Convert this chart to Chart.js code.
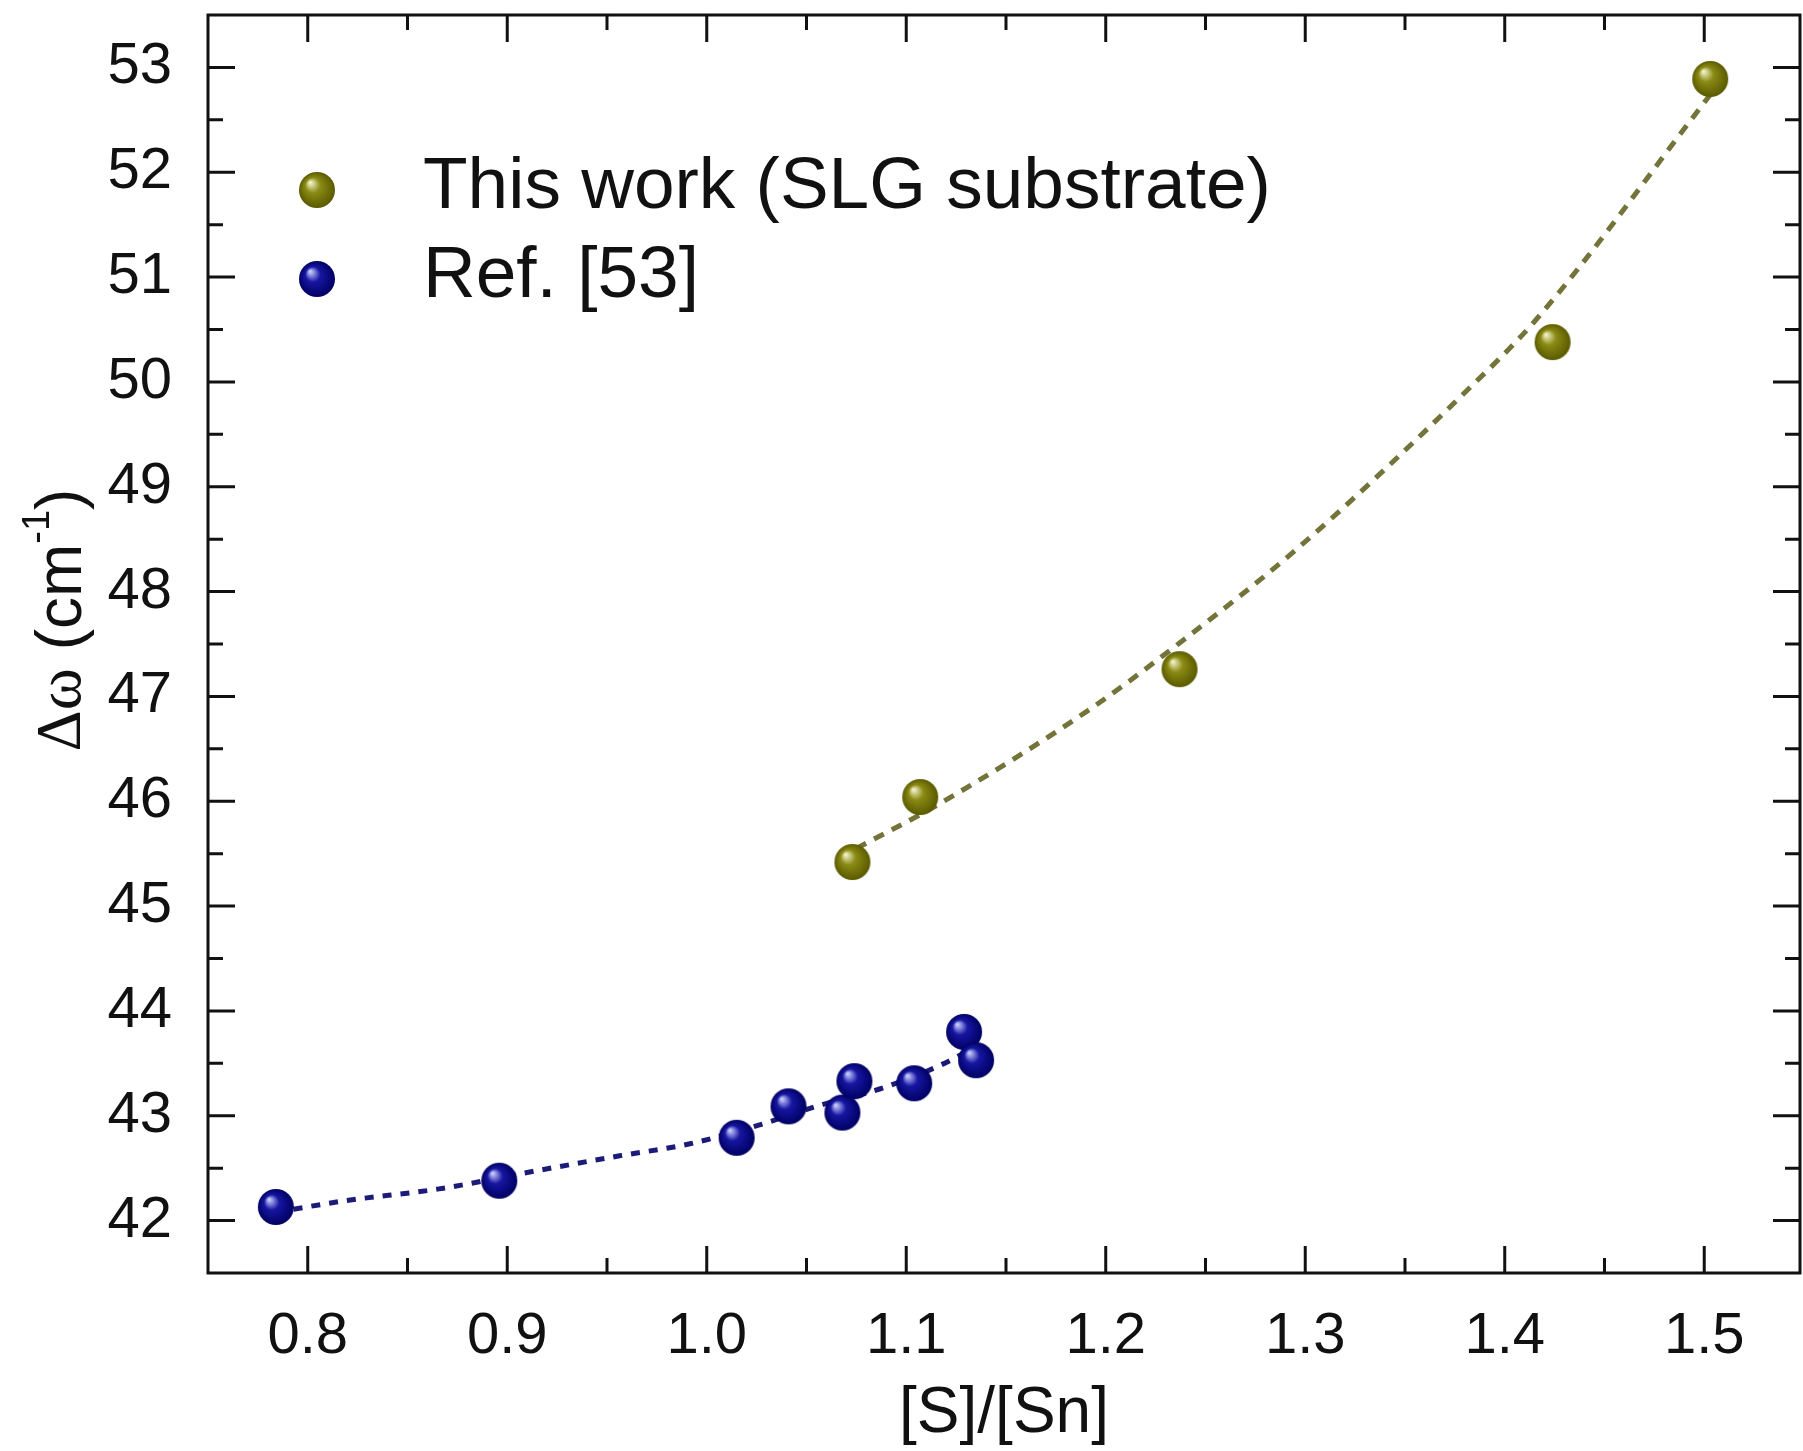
<!DOCTYPE html>
<html>
<head>
<meta charset="utf-8">
<title>Δω vs [S]/[Sn]</title>
<script src="https://cdn.jsdelivr.net/npm/chart.js@4.4.1/dist/chart.umd.min.js"></script>
<style>
  html, body { margin: 0; padding: 0; background: #fff; }
  #wrap { width: 1803px; height: 1451px; }
</style>
</head>
<body>
<div id="wrap"><canvas id="ramanChart" width="1803" height="1451"></canvas></div>
<script>
// This work (SLG substrate): [S]/[Sn] ratio and Raman shift difference
const slgRatio = [1.073, 1.107, 1.237, 1.424, 1.503];
const slgShift = [45.42, 46.04, 47.26, 50.38, 52.89];

// Ref. [53]
const refRatio = [0.784, 0.896, 1.015, 1.041, 1.068, 1.074, 1.104, 1.129, 1.135];
const refShift = [42.13, 42.38, 42.79, 43.09, 43.03, 43.33, 43.31, 43.80, 43.53];

// dashed guide curves through each set
const slgFitX = [1.075, 1.117, 1.193, 1.237, 1.296, 1.379, 1.416, 1.499, 1.503];
const slgFitY = [45.55, 45.98, 46.89, 47.51, 48.41, 49.88, 50.60, 52.64, 52.74];
const refFitX = [0.784, 0.819, 0.865, 0.916, 0.957, 0.991, 1.026, 1.055, 1.089, 1.118, 1.135];
const refFitY = [42.08, 42.19, 42.30, 42.48, 42.62, 42.73, 42.91, 43.09, 43.27, 43.49, 43.66];

const xTicks = [0.8, 0.9, 1.0, 1.1, 1.2, 1.3, 1.4, 1.5];
const yTicks = [42, 43, 44, 45, 46, 47, 48, 49, 50, 51, 52, 53];

const SANS = "'Liberation Sans', Arial, Helvetica, sans-serif";
const SERIF = "'Liberation Serif', 'Times New Roman', serif";

function pairs(xs, ys) {
    return xs.map((x, i) => ({ x: x, y: ys[i] }));
}

// shaded ball used as marker
function makeBall(r, light, base, dark) {
    const c = document.createElement('canvas');
    const s = 2 * r + 2;
    c.width = s;
    c.height = s;
    const g = c.getContext('2d');
    const cx = s / 2, cy = s / 2;
    const grad = g.createRadialGradient(cx - r * 0.38, cy - r * 0.42, r * 0.04, cx, cy, r);
    grad.addColorStop(0, light);
    grad.addColorStop(0.4, base);
    grad.addColorStop(1, dark);
    g.fillStyle = grad;
    g.beginPath();
    g.arc(cx, cy, r, 0, Math.PI * 2);
    g.fill();
    return c;
}

const oliveBall = makeBall(18, '#f2f2c8', '#8a8a14', '#5a5a00');
const blueBall = makeBall(18, '#c8ccff', '#1616a2', '#000062');

// keep the plot box fixed: no extra room for edge labels
function fixBox(s) {
    s.paddingTop = 0;
    s.paddingBottom = 0;
    s.paddingLeft = 0;
    s.paddingRight = 0;
}

// frame, inward ticks, axis titles and legend
const decorations = {
    id: 'decorations',
    afterDraw(chart) {
        const ctx = chart.ctx;
        const a = chart.chartArea;
        const xs = chart.scales.x;
        const ys = chart.scales.y;
        const major = 27, minor = 15;

        ctx.save();
        ctx.strokeStyle = '#111';
        ctx.lineWidth = 3;
        ctx.strokeRect(a.left, a.top, a.right - a.left, a.bottom - a.top);

        ctx.beginPath();
        xTicks.forEach((v, i) => {
            const px = xs.getPixelForValue(v);
            ctx.moveTo(px, a.bottom); ctx.lineTo(px, a.bottom - major);
            ctx.moveTo(px, a.top); ctx.lineTo(px, a.top + major);
            if (i > 0) {
                const m = xs.getPixelForValue((v + xTicks[i - 1]) / 2);
                ctx.moveTo(m, a.bottom); ctx.lineTo(m, a.bottom - minor);
                ctx.moveTo(m, a.top); ctx.lineTo(m, a.top + minor);
            }
        });
        yTicks.forEach((v, i) => {
            const py = ys.getPixelForValue(v);
            ctx.moveTo(a.left, py); ctx.lineTo(a.left + major, py);
            ctx.moveTo(a.right, py); ctx.lineTo(a.right - major, py);
            if (i > 0) {
                const m = ys.getPixelForValue((v + yTicks[i - 1]) / 2);
                ctx.moveTo(a.left, m); ctx.lineTo(a.left + minor, m);
                ctx.moveTo(a.right, m); ctx.lineTo(a.right - minor, m);
            }
        });
        ctx.stroke();

        // x title
        ctx.fillStyle = '#111';
        ctx.font = '64px ' + SANS;
        ctx.textAlign = 'center';
        ctx.textBaseline = 'middle';
        ctx.fillText('[S]/[Sn]', (a.left + a.right) / 2, 1414);

        // y title: Δω (cm-1)
        ctx.save();
        ctx.translate(63, 620);
        ctx.rotate(-Math.PI / 2);
        ctx.textAlign = 'left';
        const parts = [
            { t: 'Δω', f: '64px ' + SERIF, dy: 0 },
            { t: ' (cm', f: '64px ' + SANS, dy: 0 },
            { t: '-1', f: '38px ' + SANS, dy: -24 },
            { t: ')', f: '64px ' + SANS, dy: 0 }
        ];
        let total = 0;
        parts.forEach(p => { ctx.font = p.f; p.w = ctx.measureText(p.t).width; total += p.w; });
        let x = -total / 2;
        parts.forEach(p => {
            ctx.font = p.f;
            ctx.fillText(p.t, x, p.dy);
            x += p.w;
        });
        ctx.restore();

        // legend
        const items = [
            { img: oliveBall, label: chart.data.datasets[2].label, y: 190 },
            { img: blueBall, label: chart.data.datasets[3].label, y: 279 }
        ];
        ctx.font = '73px ' + SANS;
        ctx.textAlign = 'left';
        ctx.textBaseline = 'middle';
        items.forEach(it => {
            ctx.drawImage(it.img, 317 - it.img.width / 2, it.y - it.img.height / 2);
            ctx.fillText(it.label, 423, it.y - 2);
        });
        ctx.restore();
    }
};

new Chart(document.getElementById('ramanChart'), {
    type: 'scatter',
    data: {
        datasets: [
            {
                label: 'fit SLG',
                data: pairs(slgFitX, slgFitY),
                showLine: true,
                borderColor: '#74743a',
                borderWidth: 5,
                borderDash: [11, 9],
                cubicInterpolationMode: 'monotone',
                pointRadius: 0,
                order: 2
            },
            {
                label: 'fit ref',
                data: pairs(refFitX, refFitY),
                showLine: true,
                borderColor: '#1c1c78',
                borderWidth: 5,
                borderDash: [9, 9],
                cubicInterpolationMode: 'monotone',
                pointRadius: 0,
                order: 2
            },
            {
                label: 'This work (SLG substrate)',
                data: pairs(slgRatio, slgShift),
                pointStyle: oliveBall,
                pointRadius: 18,
                order: 1
            },
            {
                label: 'Ref. [53]',
                data: pairs(refRatio, refShift),
                pointStyle: blueBall,
                pointRadius: 18,
                order: 1
            }
        ]
    },
    options: {
        responsive: false,
        animation: false,
        devicePixelRatio: 1,
        layout: {
            autoPadding: false,
            padding: { top: 15, right: 3, left: 0, bottom: 0 }
        },
        plugins: {
            legend: { display: false },
            tooltip: { enabled: false }
        },
        scales: {
            x: {
                type: 'linear',
                min: 0.75,
                max: 1.548,
                grid: { display: false },
                border: { display: false },
                afterBuildTicks: s => { s.ticks = xTicks.map(v => ({ value: v })); },
                afterFit: s => { s.height = 178; fixBox(s); },
                ticks: {
                    padding: 21,
                    color: '#111',
                    font: { family: SANS, size: 58 },
                    callback: v => v.toFixed(1)
                }
            },
            y: {
                type: 'linear',
                min: 41.5,
                max: 53.5,
                grid: { display: false },
                border: { display: false },
                afterBuildTicks: s => { s.ticks = yTicks.map(v => ({ value: v })); },
                afterFit: s => { s.width = 208; fixBox(s); },
                ticks: {
                    padding: 28,
                    color: '#111',
                    font: { family: SANS, size: 58 },
                    callback: v => String(v)
                }
            }
        }
    },
    plugins: [decorations]
});
</script>
</body>
</html>
